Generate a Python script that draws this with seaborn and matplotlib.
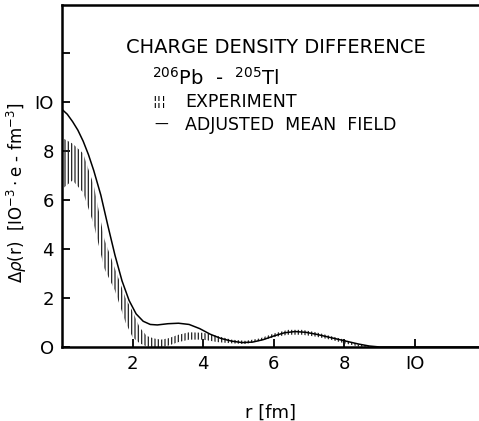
import matplotlib
matplotlib.use("Agg")
import matplotlib.pyplot as plt
import seaborn as sns
import pandas as pd

# adjusted mean field curve
r_mf = [0.0, 0.15, 0.3, 0.45, 0.6, 0.75, 0.9, 1.1, 1.3, 1.5, 1.7, 1.9, 2.1, 2.3, 2.5, 2.7, 3.0,
        3.3, 3.6, 3.9, 4.2, 4.5, 4.8, 5.1, 5.4, 5.7, 6.0, 6.3, 6.6, 6.9, 7.2, 7.5, 7.8, 8.1,
        8.4, 8.7, 9.0, 11.9]
mf = [9.7, 9.5, 9.2, 8.85, 8.4, 7.85, 7.2, 6.2, 4.95, 3.75, 2.7, 1.9, 1.35, 1.05, 0.92, 0.9, 0.95,
      0.97, 0.92, 0.75, 0.52, 0.35, 0.24, 0.18, 0.2, 0.3, 0.45, 0.58, 0.63, 0.6, 0.52, 0.42, 0.32,
      0.22, 0.12, 0.04, 0.0, 0.0]

# experiment error band
r_exp = [0.05, 0.3, 0.6, 0.9, 1.2, 1.5, 1.8, 2.0, 2.2, 2.4, 2.6, 2.8, 3.0, 3.3, 3.6, 4.0,
         4.4, 4.8, 5.2, 5.6, 6.0, 6.4, 6.8, 7.2, 7.6, 8.0, 8.4, 8.8]
exp_high = [8.5, 8.3, 7.9, 6.6, 4.4, 3.2, 2.0, 1.45, 0.8, 0.45, 0.35, 0.3, 0.35, 0.5, 0.6, 0.58,
            0.45, 0.3, 0.25, 0.35, 0.55, 0.7, 0.7, 0.6, 0.45, 0.3, 0.1, 0.02]
exp_low = [6.5, 6.8, 6.3, 5.0, 3.2, 2.3, 1.0, 0.4, 0.15, 0.02, 0.0, 0.0, 0.05, 0.2, 0.3, 0.3,
           0.2, 0.15, 0.12, 0.25, 0.4, 0.5, 0.5, 0.42, 0.3, 0.15, 0.02, 0.0]

sns.set_style("ticks")
plt.rcParams['font.family'] = ['DejaVu Sans']
plt.rcParams['hatch.linewidth'] = 0.9
plt.rcParams['text.color'] = 'black'
plt.rcParams['axes.labelcolor'] = 'black'

fig = plt.figure(figsize=(4.79, 4.21), dpi=100)
ax = fig.add_axes([0.1294, 0.1758, 0.8706, 0.8124])

df = pd.DataFrame({'r': r_mf, 'rho': mf})
sns.lineplot(data=df, x='r', y='rho', color='black', linewidth=1.1, ax=ax)
ax.fill_between(r_exp, exp_low, exp_high, facecolor='none', edgecolor='#222222',
                hatch='|||||', linewidth=0)

ax.set_xlim(0, 11.81)
ax.set_ylim(0, 13.96)
ax.set_xticks([2, 4, 6, 8, 10])
ax.set_xticklabels(['2', '4', '6', '8', 'IO'])
ax.set_yticks([0, 2, 4, 6, 8, 10, 12])
ax.set_yticklabels(['O', '2', '4', '6', '8', 'IO', ''])
ax.tick_params(direction='in', length=6, width=1.3, labelsize=13, pad=6, colors='black')
for s in ['left', 'bottom', 'top']:
    ax.spines[s].set_linewidth(1.8)
    ax.spines[s].set_color('black')
ax.spines['right'].set_visible(False)

ax.set_xlabel('r [fm]', fontsize=13, labelpad=22)
ax.set_ylabel(r'$\Delta\rho$(r)  [IO$^{-3}\cdot$e - fm$^{-3}$]', fontsize=12, va='center')
ax.yaxis.set_label_coords(-0.108, 0.45)

fig.text(0.263, 0.888, 'CHARGE DENSITY DIFFERENCE', fontsize=14, va='center')
fig.text(0.318, 0.815, r'$^{206}$Pb  -  $^{205}$Tl', fontsize=14, va='center')
fig.text(0.318, 0.758, '\u00a6\u00a6\u00a6', fontsize=10, va='center')
fig.text(0.386, 0.758, 'EXPERIMENT', fontsize=12.5, va='center')
fig.text(0.323, 0.703, '\u2014', fontsize=10, va='center')
fig.text(0.386, 0.703, 'ADJUSTED  MEAN  FIELD', fontsize=12.5, va='center')

fig.savefig('out.png', dpi=100)
